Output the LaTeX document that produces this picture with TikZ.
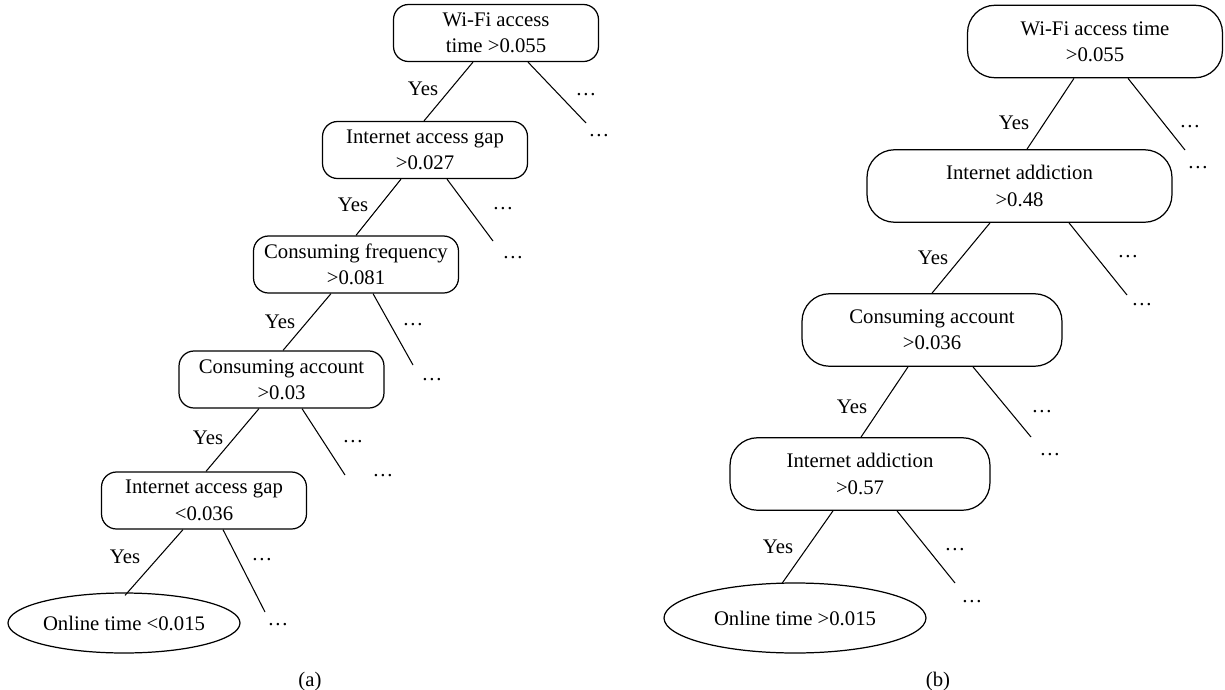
\documentclass[tikz,border=0pt]{standalone}
\usepackage{fontspec}
\setmainfont{Liberation Serif}
\usetikzlibrary{shapes.geometric, calc}

\newcommand{\treefont}{\fontsize{11.8}{15}\selectfont}

\begin{document}
\begin{tikzpicture}[
	x=0.02cm, y=-0.02cm,
	% Define styles
	splitbox/.style={rectangle, draw=black, line width=0.7pt, rounded corners=0.3cm, minimum width=4.1cm, minimum height=1.14cm, align=center, inner sep=2pt, font=\treefont},
	widebox/.style={splitbox, rounded corners=0.55cm, minimum height=1.45cm},
	leafbox/.style={ellipse, draw=black, line width=0.7pt, inner sep=0pt, font=\treefont},
	branch/.style={draw=black, line width=0.6pt},
	yeslabel/.style={font=\treefont, inner sep=0pt},
	moredots/.style={font=\treefont, inner sep=0pt},
	panellabel/.style={font=\treefont}
	]
	\useasboundingbox (0,0) rectangle (1225,690);

	% Panel (a) - split nodes
	\node[splitbox] (a1) at (496,33) {Wi-Fi access\\time >0.055};
	\node[splitbox] (a2) at (425,150) {Internet access gap\\>0.027};
	\node[splitbox] (a3) at (356,264.5) {Consuming frequency\\>0.081};
	\node[splitbox] (a4) at (281.5,379.5) {Consuming account\\>0.03};
	\node[splitbox] (a5) at (204,500.5) {Internet access gap\\<0.036};
	\node[leafbox, minimum width=4.64cm, minimum height=1.2cm] (aleaf) at (124,623) {Online time <0.015};

	% Panel (a) - free ends of the other branches
	\coordinate (a1end) at (586,123);
	\coordinate (a2end) at (493,241);
	\coordinate (a3end) at (413,365);
	\coordinate (a4end) at (345,475);
	\coordinate (a5end) at (265,612);

	% Panel (a) - yes branches
	\draw[branch] ($(a1.south)+(-23,0)$) -- ($(a2.north)+(-1,0)$);
	\draw[branch] ($(a2.south)+(-24,0)$) -- (a3.north);
	\draw[branch] ($(a3.south)+(-25,0)$) -- ($(a4.north)+(1.5,0)$);
	\draw[branch] ($(a4.south)+(-22.5,0)$) -- ($(a5.north)+(2,0)$);
	\draw[branch] ($(a5.south)+(-21,0)$) -- ($(aleaf.north)+(1,3)$);

	% Panel (a) - other branches
	\draw[branch] ($(a1.south)+(32,0)$) -- (a1end);
	\draw[branch] ($(a2.south)+(22,0)$) -- (a2end);
	\draw[branch] ($(a3.south)+(17,0)$) -- (a3end);
	\draw[branch] ($(a4.south)+(20.5,0)$) -- (a4end);
	\draw[branch] ($(a5.south)+(19,0)$) -- (a5end);

	% Panel (a) - labels
	\node[yeslabel] (ay1) at (423,89) {Yes};
	\node[yeslabel] (ay2) at (353,205) {Yes};
	\node[yeslabel] (ay3) at (280,322) {Yes};
	\node[yeslabel] (ay4) at (208,438) {Yes};
	\node[yeslabel] (ay5) at (125,557) {Yes};
	\node[moredots] (ad1) at (586,95) {\dots};
	\node[moredots] (ad1b) at (599,136) {\dots};
	\node[moredots] (ad2) at (503,209) {\dots};
	\node[moredots] (ad2b) at (513,258) {\dots};
	\node[moredots] (ad3) at (413,325) {\dots};
	\node[moredots] (ad3b) at (432,380) {\dots};
	\node[moredots] (ad4) at (353,442) {\dots};
	\node[moredots] (ad4b) at (383,476) {\dots};
	\node[moredots] (ad5) at (262,560) {\dots};
	\node[moredots] (ad5b) at (278,625) {\dots};

	% Panel (b) - split nodes
	\node[widebox, minimum width=5.1cm] (b1) at (1095,41.5) {Wi-Fi access time\\>0.055};
	\node[widebox, minimum width=6.1cm] (b2) at (1019.5,186) {Internet addiction\\>0.48};
	\node[widebox, minimum width=5.2cm] (b3) at (932,330) {Consuming account\\>0.036};
	\node[widebox, minimum width=5.2cm] (b4) at (860,474) {Internet addiction\\>0.57};
	\node[leafbox, minimum width=5.24cm, minimum height=1.4cm] (bleaf) at (795,618) {Online time >0.015};

	% Panel (b) - free ends of the other branches
	\coordinate (b1end) at (1185,150);
	\coordinate (b2end) at (1127,295);
	\coordinate (b3end) at (1031,437);
	\coordinate (b4end) at (955,583);

	% Panel (b) - yes branches
	\draw[branch] ($(b1.south)+(-21,0)$) -- ($(b2.north)+(7.5,0)$);
	\draw[branch] ($(b2.south)+(-29.5,0)$) -- (b3.north);
	\draw[branch] ($(b3.south)+(-24,0)$) -- ($(b4.north)+(1,0)$);
	\draw[branch] ($(b4.south)+(-27,0)$) -- ($(bleaf.north)+(-13,1)$);

	% Panel (b) - other branches
	\draw[branch] ($(b1.south)+(33,0)$) -- (b1end);
	\draw[branch] ($(b2.south)+(49.5,0)$) -- (b2end);
	\draw[branch] ($(b3.south)+(41,0)$) -- (b3end);
	\draw[branch] ($(b4.south)+(37,0)$) -- (b4end);

	% Panel (b) - labels
	\node[yeslabel] (by1) at (1014,123) {Yes};
	\node[yeslabel] (by2) at (933,258) {Yes};
	\node[yeslabel] (by3) at (852,407) {Yes};
	\node[yeslabel] (by4) at (778,547) {Yes};
	\node[moredots] (bd1) at (1190,127) {\dots};
	\node[moredots] (bd1b) at (1198,168) {\dots};
	\node[moredots] (bd2) at (1128,257) {\dots};
	\node[moredots] (bd2b) at (1142,305) {\dots};
	\node[moredots] (bd3) at (1042,412) {\dots};
	\node[moredots] (bd3b) at (1050,455) {\dots};
	\node[moredots] (bd4) at (955,550) {\dots};
	\node[moredots] (bd4b) at (972,602) {\dots};

	% Panel captions
	\node[panellabel] (capa) at (310,682) {(a)};
	\node[panellabel] (capb) at (938,682) {(b)};
\end{tikzpicture}
\end{document}
